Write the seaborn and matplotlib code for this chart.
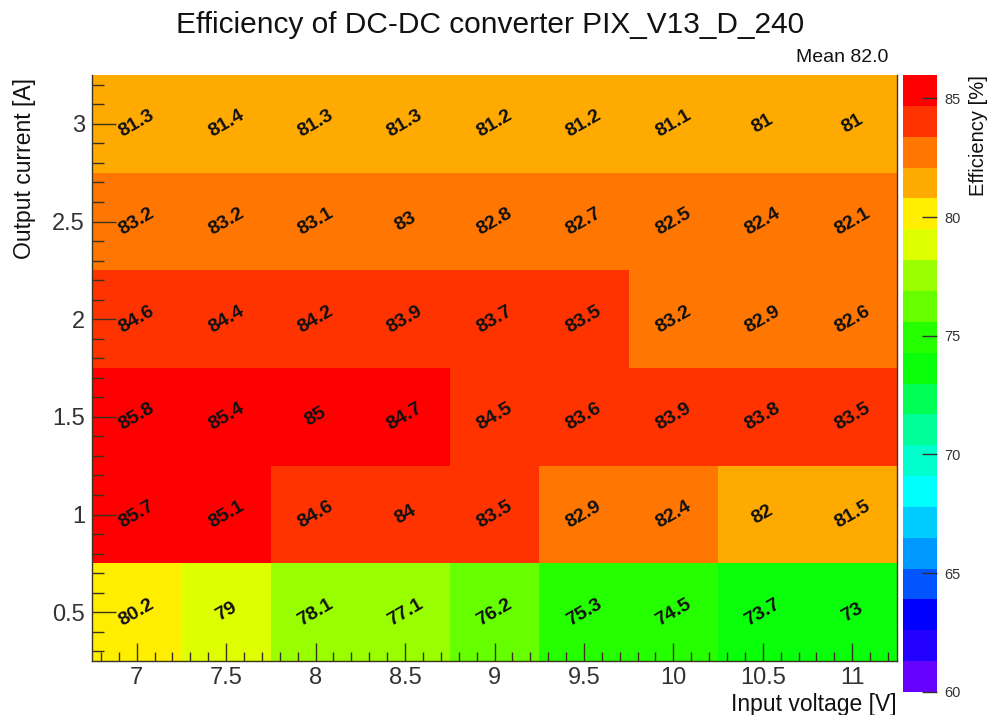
import numpy as np
import pandas as pd
import matplotlib
matplotlib.use("Agg")
import matplotlib.pyplot as plt
import seaborn as sns
from matplotlib.colors import ListedColormap, BoundaryNorm

# ---- data ----
voltages = [7, 7.5, 8, 8.5, 9, 9.5, 10, 10.5, 11]
currents = [3, 2.5, 2, 1.5, 1, 0.5]
eff_3p0 = [81.3, 81.4, 81.3, 81.3, 81.2, 81.2, 81.1, 81, 81]
eff_2p5 = [83.2, 83.2, 83.1, 83, 82.8, 82.7, 82.5, 82.4, 82.1]
eff_2p0 = [84.6, 84.4, 84.2, 83.9, 83.7, 83.5, 83.2, 82.9, 82.6]
eff_1p5 = [85.8, 85.4, 85, 84.7, 84.5, 83.6, 83.9, 83.8, 83.5]
eff_1p0 = [85.7, 85.1, 84.6, 84, 83.5, 82.9, 82.4, 82, 81.5]
eff_0p5 = [80.2, 79, 78.1, 77.1, 76.2, 75.3, 74.5, 73.7, 73]
cbar_ticks = [60, 65, 70, 75, 80, 85]
title = "Efficiency of DC-DC converter PIX_V13_D_240"
mean_text = "Mean 82.0"

palette = ["#6600ff", "#2200ff", "#0000ff", "#0055ff", "#0099ff", "#00ccff",
           "#00ffff", "#00ffcc", "#00ff99", "#00ff55", "#0aff0a", "#26ff00",
           "#66ff00", "#99ff00", "#ddff00", "#ffee00", "#ffaa00", "#ff7700",
           "#ff3300", "#ff0000"]

df = pd.DataFrame([eff_3p0, eff_2p5, eff_2p0, eff_1p5, eff_1p0, eff_0p5],
                  index=currents, columns=voltages)

sns.set_theme(style="white")
plt.rcParams['font.family'] = ['Liberation Sans', 'DejaVu Sans']

W, H = 990, 715
fig = plt.figure(figsize=(W / 100, H / 100), dpi=100)
L, R, T, B = 92, 897, 75, 661
ax = fig.add_axes([L / W, 1 - B / H, (R - L) / W, (B - T) / H])
cax = fig.add_axes([903 / W, 1 - 692 / H, 34 / W, (692 - T) / H])

cmap = ListedColormap(palette)
bounds = np.linspace(60, 86, len(palette) + 1) - 0.01
norm = BoundaryNorm(bounds, len(palette))

sns.heatmap(df, ax=ax, cbar_ax=cax, cmap=cmap, norm=norm, annot=True, fmt="g",
            annot_kws=dict(rotation=30, fontweight="bold", fontsize=14, color="#111111"),
            xticklabels=False, yticklabels=False, linewidths=0)
ax.set_axisbelow(False)
cax.set_axisbelow(False)

# axis ticks mapped into heatmap cell coordinates
def xpos(v):
    return (v - voltages[0]) * 2 + 0.5

def ypos(c):
    return (currents[0] - c) * 2 + 0.5

ax.set_xticks([xpos(v) for v in voltages])
ax.set_xticklabels([f"{v:g}" for v in voltages], rotation=0)
ax.set_yticks([ypos(c) for c in currents])
ax.set_yticklabels([f"{c:g}" for c in currents], rotation=0)
ax.set_xticks([xpos(v) for v in np.arange(6.8, 11.25, 0.1)], minor=True)
ax.set_yticks([ypos(c) for c in np.arange(0.3, 3.25, 0.1)], minor=True)
tick_col = "#3a3320"
ax.tick_params(axis="x", which="major", direction="in", length=13, width=1,
               color=tick_col, labelsize=17, pad=4, bottom=True, top=False,
               labelcolor="#333333")
ax.tick_params(axis="x", which="minor", direction="in", length=6.5, width=1,
               color=tick_col, bottom=True, top=False)
ax.tick_params(axis="y", which="major", direction="in", length=17, width=1,
               color=tick_col, labelsize=17, pad=5, left=True, right=False,
               labelcolor="#333333")
ax.tick_params(axis="y", which="minor", direction="in", length=8.5, width=1,
               color=tick_col, left=True, right=False)
ax.set_xlabel("")
ax.set_ylabel("")
for name, s in ax.spines.items():
    s.set_visible(name != "top")
    s.set_color(tick_col)
    s.set_linewidth(1)

# colorbar
cbar = ax.collections[0].colorbar
cbar.outline.set_linewidth(0)
cax.set_yticks(cbar_ticks)
cax.set_yticklabels([str(t) for t in cbar_ticks])
cax.yaxis.set_ticks_position("right")
cax.tick_params(axis="y", direction="in", length=11, width=1, color="#333333",
                labelsize=10.5, pad=5, right=True, left=False, labelcolor="#333333")
cax.minorticks_off()

# texts
fig.text(0.495, 1 - 25 / H, title, ha="center", va="center", fontsize=21.5, color="#111111")
fig.text(888 / W, 1 - 58 / H, mean_text, ha="right", va="center", fontsize=14, color="#111111")
fig.text(979 / W, 1 - 75 / H, "Efficiency [%]", rotation=90, ha="center", va="top",
         fontsize=14.5, color="#111111")
fig.text(25 / W, 1 - 78 / H, "Output current [A]", rotation=90, ha="center", va="top",
         fontsize=16.5, color="#111111")
fig.text(R / W, 1 - 704 / H, "Input voltage [V]", ha="right", va="center",
         fontsize=16.5, color="#111111")

fig.savefig("out.png", dpi=100)
